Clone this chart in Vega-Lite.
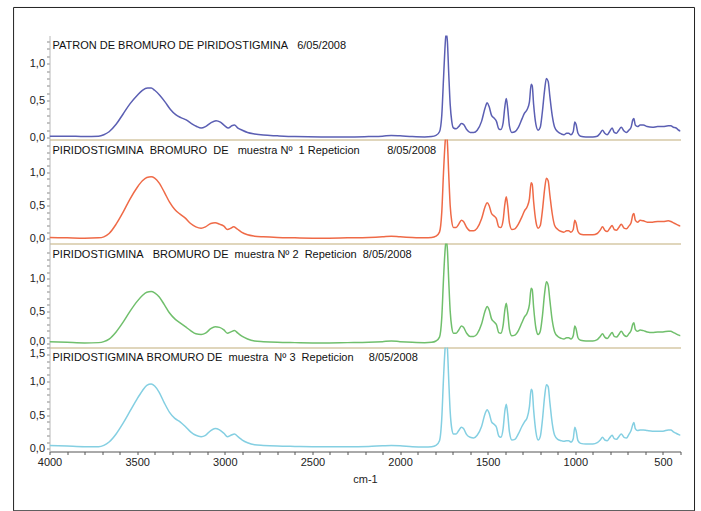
{
"$schema": "https://vega.github.io/schema/vega-lite/v6.json",
"padding": {"left": 12.5, "top": 6.5, "right": 4, "bottom": 0},
"background": "white",
"bounds": "flush",
"spacing": 0,
"config": {
  "font": "Liberation Sans",
  "view": {"stroke": null},
  "concat": {"spacing": 0},
  "axis": {"labelFont": "Liberation Sans", "labelFontSize": 11, "labelColor": "#222", "titleFont": "Liberation Sans", "grid": false},
  "title": {"font": "Liberation Sans", "fontSize": 11, "fontWeight": "normal", "color": "#111", "anchor": "start", "frame": "group", "baseline": "top", "offset": -16, "dx": 3}
},
"datasets": {
"p1": [{"w":4000,"a":0.02},{"w":3900,"a":0.02},{"w":3800,"a":0.015},{"w":3720,"a":0.02},{"w":3690,"a":0.04},{"w":3660,"a":0.08},{"w":3620,"a":0.18},{"w":3580,"a":0.32},{"w":3540,"a":0.46},{"w":3500,"a":0.57},{"w":3470,"a":0.64},{"w":3440,"a":0.67},{"w":3420,"a":0.67},{"w":3400,"a":0.64},{"w":3370,"a":0.57},{"w":3340,"a":0.48},{"w":3310,"a":0.38},{"w":3280,"a":0.31},{"w":3250,"a":0.27},{"w":3220,"a":0.24},{"w":3190,"a":0.19},{"w":3160,"a":0.15},{"w":3135,"a":0.13},{"w":3110,"a":0.15},{"w":3080,"a":0.2},{"w":3050,"a":0.23},{"w":3025,"a":0.21},{"w":3000,"a":0.16},{"w":2980,"a":0.13},{"w":2960,"a":0.16},{"w":2945,"a":0.17},{"w":2925,"a":0.13},{"w":2900,"a":0.1},{"w":2870,"a":0.07},{"w":2830,"a":0.05},{"w":2780,"a":0.035},{"w":2700,"a":0.025},{"w":2600,"a":0.015},{"w":2450,"a":0.01},{"w":2300,"a":0.01},{"w":2180,"a":0.015},{"w":2100,"a":0.02},{"w":2050,"a":0.03},{"w":2000,"a":0.025},{"w":1930,"a":0.015},{"w":1860,"a":0.01},{"w":1820,"a":0.015},{"w":1795,"a":0.03},{"w":1775,"a":0.08},{"w":1762,"a":0.3},{"w":1752,"a":0.8},{"w":1744,"a":1.2},{"w":1737,"a":1.42},{"w":1730,"a":1.3},{"w":1722,"a":0.85},{"w":1714,"a":0.45},{"w":1705,"a":0.22},{"w":1695,"a":0.13},{"w":1680,"a":0.12},{"w":1665,"a":0.15},{"w":1650,"a":0.19},{"w":1638,"a":0.18},{"w":1620,"a":0.11},{"w":1600,"a":0.07},{"w":1580,"a":0.07},{"w":1560,"a":0.1},{"w":1535,"a":0.22},{"w":1515,"a":0.4},{"w":1503,"a":0.47},{"w":1492,"a":0.42},{"w":1478,"a":0.3},{"w":1462,"a":0.26},{"w":1450,"a":0.22},{"w":1437,"a":0.12},{"w":1425,"a":0.11},{"w":1412,"a":0.2},{"w":1402,"a":0.42},{"w":1394,"a":0.53},{"w":1386,"a":0.4},{"w":1376,"a":0.16},{"w":1362,"a":0.07},{"w":1345,"a":0.08},{"w":1325,"a":0.14},{"w":1305,"a":0.25},{"w":1290,"a":0.33},{"w":1275,"a":0.38},{"w":1262,"a":0.48},{"w":1252,"a":0.72},{"w":1246,"a":0.7},{"w":1238,"a":0.45},{"w":1225,"a":0.18},{"w":1212,"a":0.1},{"w":1200,"a":0.14},{"w":1188,"a":0.35},{"w":1175,"a":0.65},{"w":1165,"a":0.8},{"w":1155,"a":0.76},{"w":1145,"a":0.55},{"w":1132,"a":0.3},{"w":1118,"a":0.14},{"w":1100,"a":0.08},{"w":1080,"a":0.05},{"w":1065,"a":0.04},{"w":1050,"a":0.06},{"w":1038,"a":0.06},{"w":1025,"a":0.04},{"w":1012,"a":0.08},{"w":1003,"a":0.21},{"w":996,"a":0.18},{"w":985,"a":0.06},{"w":970,"a":0.02},{"w":940,"a":0.01},{"w":900,"a":0.01},{"w":875,"a":0.02},{"w":858,"a":0.06},{"w":845,"a":0.1},{"w":832,"a":0.06},{"w":818,"a":0.04},{"w":805,"a":0.08},{"w":790,"a":0.13},{"w":778,"a":0.07},{"w":765,"a":0.06},{"w":752,"a":0.1},{"w":738,"a":0.14},{"w":722,"a":0.09},{"w":708,"a":0.07},{"w":695,"a":0.1},{"w":682,"a":0.14},{"w":672,"a":0.24},{"w":666,"a":0.26},{"w":658,"a":0.17},{"w":645,"a":0.15},{"w":630,"a":0.17},{"w":612,"a":0.17},{"w":590,"a":0.15},{"w":560,"a":0.14},{"w":530,"a":0.15},{"w":500,"a":0.15},{"w":470,"a":0.16},{"w":455,"a":0.16},{"w":440,"a":0.14},{"w":425,"a":0.13},{"w":410,"a":0.1},{"w":400,"a":0.09}],
"p2": [{"w":4000,"a":0.02},{"w":3900,"a":0.015},{"w":3800,"a":0.01},{"w":3720,"a":0.015},{"w":3690,"a":0.03},{"w":3660,"a":0.08},{"w":3620,"a":0.22},{"w":3580,"a":0.4},{"w":3540,"a":0.6},{"w":3500,"a":0.77},{"w":3470,"a":0.87},{"w":3445,"a":0.92},{"w":3420,"a":0.93},{"w":3400,"a":0.91},{"w":3375,"a":0.84},{"w":3345,"a":0.7},{"w":3315,"a":0.55},{"w":3285,"a":0.44},{"w":3255,"a":0.37},{"w":3225,"a":0.31},{"w":3195,"a":0.23},{"w":3165,"a":0.18},{"w":3135,"a":0.16},{"w":3110,"a":0.18},{"w":3080,"a":0.23},{"w":3055,"a":0.24},{"w":3030,"a":0.22},{"w":3005,"a":0.19},{"w":2985,"a":0.14},{"w":2965,"a":0.16},{"w":2950,"a":0.18},{"w":2930,"a":0.15},{"w":2905,"a":0.1},{"w":2870,"a":0.06},{"w":2830,"a":0.04},{"w":2780,"a":0.03},{"w":2700,"a":0.02},{"w":2600,"a":0.015},{"w":2450,"a":0.01},{"w":2300,"a":0.015},{"w":2180,"a":0.02},{"w":2100,"a":0.03},{"w":2050,"a":0.04},{"w":2000,"a":0.03},{"w":1930,"a":0.02},{"w":1860,"a":0.015},{"w":1820,"a":0.02},{"w":1795,"a":0.04},{"w":1775,"a":0.1},{"w":1762,"a":0.4},{"w":1752,"a":1.0},{"w":1744,"a":1.4},{"w":1737,"a":1.6},{"w":1730,"a":1.45},{"w":1722,"a":0.95},{"w":1714,"a":0.5},{"w":1705,"a":0.26},{"w":1695,"a":0.17},{"w":1680,"a":0.17},{"w":1665,"a":0.22},{"w":1650,"a":0.28},{"w":1638,"a":0.26},{"w":1620,"a":0.17},{"w":1600,"a":0.12},{"w":1580,"a":0.12},{"w":1560,"a":0.16},{"w":1535,"a":0.3},{"w":1515,"a":0.48},{"w":1503,"a":0.54},{"w":1492,"a":0.5},{"w":1478,"a":0.38},{"w":1462,"a":0.34},{"w":1450,"a":0.3},{"w":1437,"a":0.18},{"w":1425,"a":0.17},{"w":1412,"a":0.28},{"w":1402,"a":0.52},{"w":1394,"a":0.63},{"w":1386,"a":0.5},{"w":1376,"a":0.24},{"w":1362,"a":0.14},{"w":1345,"a":0.15},{"w":1325,"a":0.22},{"w":1305,"a":0.33},{"w":1290,"a":0.42},{"w":1275,"a":0.48},{"w":1262,"a":0.6},{"w":1252,"a":0.84},{"w":1246,"a":0.82},{"w":1238,"a":0.56},{"w":1225,"a":0.26},{"w":1212,"a":0.16},{"w":1200,"a":0.2},{"w":1188,"a":0.42},{"w":1175,"a":0.75},{"w":1165,"a":0.91},{"w":1155,"a":0.87},{"w":1145,"a":0.65},{"w":1132,"a":0.38},{"w":1118,"a":0.2},{"w":1100,"a":0.14},{"w":1080,"a":0.11},{"w":1065,"a":0.1},{"w":1050,"a":0.12},{"w":1038,"a":0.12},{"w":1025,"a":0.1},{"w":1012,"a":0.14},{"w":1003,"a":0.28},{"w":996,"a":0.24},{"w":985,"a":0.11},{"w":970,"a":0.07},{"w":940,"a":0.06},{"w":900,"a":0.06},{"w":875,"a":0.08},{"w":858,"a":0.13},{"w":845,"a":0.18},{"w":832,"a":0.13},{"w":818,"a":0.11},{"w":805,"a":0.15},{"w":790,"a":0.2},{"w":778,"a":0.14},{"w":765,"a":0.13},{"w":752,"a":0.17},{"w":738,"a":0.22},{"w":722,"a":0.16},{"w":708,"a":0.15},{"w":695,"a":0.19},{"w":682,"a":0.24},{"w":672,"a":0.36},{"w":666,"a":0.38},{"w":658,"a":0.28},{"w":645,"a":0.25},{"w":630,"a":0.28},{"w":612,"a":0.27},{"w":590,"a":0.25},{"w":560,"a":0.25},{"w":530,"a":0.26},{"w":500,"a":0.26},{"w":470,"a":0.27},{"w":455,"a":0.26},{"w":440,"a":0.24},{"w":425,"a":0.22},{"w":410,"a":0.2},{"w":400,"a":0.19}],
"p3": [{"w":4000,"a":0.03},{"w":3900,"a":0.02},{"w":3800,"a":0.01},{"w":3720,"a":0.015},{"w":3690,"a":0.03},{"w":3660,"a":0.07},{"w":3620,"a":0.18},{"w":3580,"a":0.33},{"w":3540,"a":0.5},{"w":3500,"a":0.65},{"w":3470,"a":0.74},{"w":3445,"a":0.79},{"w":3420,"a":0.8},{"w":3400,"a":0.78},{"w":3375,"a":0.72},{"w":3345,"a":0.6},{"w":3315,"a":0.47},{"w":3285,"a":0.38},{"w":3255,"a":0.32},{"w":3225,"a":0.26},{"w":3195,"a":0.2},{"w":3165,"a":0.15},{"w":3135,"a":0.14},{"w":3110,"a":0.16},{"w":3080,"a":0.23},{"w":3055,"a":0.26},{"w":3030,"a":0.25},{"w":3005,"a":0.21},{"w":2985,"a":0.16},{"w":2965,"a":0.18},{"w":2945,"a":0.2},{"w":2925,"a":0.16},{"w":2900,"a":0.11},{"w":2870,"a":0.07},{"w":2830,"a":0.04},{"w":2780,"a":0.03},{"w":2700,"a":0.02},{"w":2600,"a":0.015},{"w":2450,"a":0.01},{"w":2300,"a":0.015},{"w":2180,"a":0.02},{"w":2100,"a":0.03},{"w":2050,"a":0.04},{"w":2000,"a":0.03},{"w":1930,"a":0.02},{"w":1860,"a":0.015},{"w":1820,"a":0.02},{"w":1795,"a":0.04},{"w":1775,"a":0.1},{"w":1762,"a":0.4},{"w":1752,"a":1.0},{"w":1744,"a":1.4},{"w":1737,"a":1.6},{"w":1730,"a":1.45},{"w":1722,"a":0.95},{"w":1714,"a":0.5},{"w":1705,"a":0.25},{"w":1695,"a":0.16},{"w":1680,"a":0.16},{"w":1665,"a":0.21},{"w":1650,"a":0.27},{"w":1638,"a":0.25},{"w":1620,"a":0.16},{"w":1600,"a":0.11},{"w":1580,"a":0.11},{"w":1560,"a":0.15},{"w":1535,"a":0.3},{"w":1515,"a":0.5},{"w":1503,"a":0.57},{"w":1492,"a":0.52},{"w":1478,"a":0.38},{"w":1462,"a":0.33},{"w":1450,"a":0.29},{"w":1437,"a":0.17},{"w":1425,"a":0.16},{"w":1412,"a":0.28},{"w":1402,"a":0.52},{"w":1394,"a":0.62},{"w":1386,"a":0.48},{"w":1376,"a":0.22},{"w":1362,"a":0.12},{"w":1345,"a":0.13},{"w":1325,"a":0.2},{"w":1305,"a":0.32},{"w":1290,"a":0.41},{"w":1275,"a":0.47},{"w":1262,"a":0.6},{"w":1252,"a":0.85},{"w":1246,"a":0.83},{"w":1238,"a":0.56},{"w":1225,"a":0.24},{"w":1212,"a":0.14},{"w":1200,"a":0.19},{"w":1188,"a":0.42},{"w":1175,"a":0.78},{"w":1165,"a":0.95},{"w":1155,"a":0.9},{"w":1145,"a":0.66},{"w":1132,"a":0.36},{"w":1118,"a":0.18},{"w":1100,"a":0.11},{"w":1080,"a":0.08},{"w":1065,"a":0.07},{"w":1050,"a":0.09},{"w":1038,"a":0.09},{"w":1025,"a":0.07},{"w":1012,"a":0.12},{"w":1003,"a":0.27},{"w":996,"a":0.23},{"w":985,"a":0.09},{"w":970,"a":0.05},{"w":940,"a":0.04},{"w":900,"a":0.04},{"w":875,"a":0.06},{"w":858,"a":0.11},{"w":845,"a":0.15},{"w":832,"a":0.1},{"w":818,"a":0.08},{"w":805,"a":0.12},{"w":790,"a":0.17},{"w":778,"a":0.11},{"w":765,"a":0.1},{"w":752,"a":0.14},{"w":738,"a":0.19},{"w":722,"a":0.13},{"w":708,"a":0.11},{"w":695,"a":0.15},{"w":682,"a":0.2},{"w":672,"a":0.3},{"w":666,"a":0.32},{"w":658,"a":0.22},{"w":645,"a":0.19},{"w":630,"a":0.21},{"w":612,"a":0.2},{"w":590,"a":0.18},{"w":560,"a":0.17},{"w":530,"a":0.18},{"w":500,"a":0.18},{"w":470,"a":0.19},{"w":455,"a":0.19},{"w":440,"a":0.17},{"w":425,"a":0.15},{"w":410,"a":0.13},{"w":400,"a":0.12}],
"p4": [{"w":4000,"a":0.05},{"w":3900,"a":0.04},{"w":3800,"a":0.03},{"w":3720,"a":0.03},{"w":3690,"a":0.05},{"w":3660,"a":0.1},{"w":3620,"a":0.22},{"w":3580,"a":0.38},{"w":3540,"a":0.56},{"w":3500,"a":0.74},{"w":3470,"a":0.86},{"w":3445,"a":0.94},{"w":3420,"a":0.96},{"w":3400,"a":0.93},{"w":3375,"a":0.84},{"w":3345,"a":0.68},{"w":3315,"a":0.54},{"w":3285,"a":0.45},{"w":3255,"a":0.4},{"w":3225,"a":0.33},{"w":3195,"a":0.25},{"w":3165,"a":0.2},{"w":3135,"a":0.18},{"w":3110,"a":0.2},{"w":3080,"a":0.27},{"w":3055,"a":0.3},{"w":3030,"a":0.28},{"w":3005,"a":0.23},{"w":2985,"a":0.18},{"w":2965,"a":0.2},{"w":2945,"a":0.22},{"w":2925,"a":0.18},{"w":2900,"a":0.13},{"w":2870,"a":0.09},{"w":2830,"a":0.06},{"w":2780,"a":0.05},{"w":2700,"a":0.04},{"w":2600,"a":0.035},{"w":2450,"a":0.03},{"w":2300,"a":0.03},{"w":2180,"a":0.035},{"w":2100,"a":0.045},{"w":2050,"a":0.05},{"w":2000,"a":0.045},{"w":1930,"a":0.03},{"w":1860,"a":0.025},{"w":1820,"a":0.03},{"w":1795,"a":0.05},{"w":1775,"a":0.12},{"w":1762,"a":0.45},{"w":1752,"a":1.05},{"w":1744,"a":1.45},{"w":1737,"a":1.65},{"w":1730,"a":1.5},{"w":1722,"a":1.0},{"w":1714,"a":0.55},{"w":1705,"a":0.3},{"w":1695,"a":0.22},{"w":1680,"a":0.22},{"w":1665,"a":0.27},{"w":1650,"a":0.32},{"w":1638,"a":0.3},{"w":1620,"a":0.21},{"w":1600,"a":0.17},{"w":1580,"a":0.16},{"w":1560,"a":0.2},{"w":1535,"a":0.33},{"w":1515,"a":0.52},{"w":1503,"a":0.58},{"w":1492,"a":0.53},{"w":1478,"a":0.4},{"w":1462,"a":0.36},{"w":1450,"a":0.32},{"w":1437,"a":0.19},{"w":1425,"a":0.17},{"w":1412,"a":0.3},{"w":1402,"a":0.56},{"w":1394,"a":0.66},{"w":1386,"a":0.52},{"w":1376,"a":0.25},{"w":1362,"a":0.13},{"w":1345,"a":0.14},{"w":1325,"a":0.22},{"w":1305,"a":0.33},{"w":1290,"a":0.4},{"w":1275,"a":0.46},{"w":1262,"a":0.62},{"w":1252,"a":0.88},{"w":1246,"a":0.86},{"w":1238,"a":0.58},{"w":1225,"a":0.25},{"w":1212,"a":0.13},{"w":1200,"a":0.18},{"w":1188,"a":0.42},{"w":1175,"a":0.78},{"w":1165,"a":0.95},{"w":1155,"a":0.92},{"w":1145,"a":0.68},{"w":1132,"a":0.38},{"w":1118,"a":0.2},{"w":1100,"a":0.14},{"w":1080,"a":0.12},{"w":1065,"a":0.11},{"w":1050,"a":0.12},{"w":1038,"a":0.12},{"w":1025,"a":0.1},{"w":1012,"a":0.15},{"w":1003,"a":0.32},{"w":996,"a":0.27},{"w":985,"a":0.12},{"w":970,"a":0.08},{"w":940,"a":0.07},{"w":900,"a":0.07},{"w":875,"a":0.09},{"w":858,"a":0.13},{"w":845,"a":0.17},{"w":832,"a":0.13},{"w":818,"a":0.12},{"w":805,"a":0.16},{"w":790,"a":0.2},{"w":778,"a":0.15},{"w":765,"a":0.14},{"w":752,"a":0.18},{"w":738,"a":0.22},{"w":722,"a":0.17},{"w":708,"a":0.16},{"w":695,"a":0.21},{"w":682,"a":0.27},{"w":672,"a":0.36},{"w":666,"a":0.39},{"w":658,"a":0.3},{"w":645,"a":0.27},{"w":630,"a":0.28},{"w":612,"a":0.28},{"w":590,"a":0.27},{"w":560,"a":0.26},{"w":530,"a":0.26},{"w":500,"a":0.26},{"w":470,"a":0.28},{"w":455,"a":0.28},{"w":440,"a":0.25},{"w":425,"a":0.23},{"w":410,"a":0.21},{"w":400,"a":0.2}],
"t4": [{"t": "PIRIDOSTIGMINA\u00a0BROMURO\u00a0DE\u00a0\u00a0muestra\u00a0\u00a0Nº\u00a03\u00a0\u00a0Repeticion\u00a0\u00a0\u00a0\u00a0\u00a08/05/2008"}]
},
"vconcat": [
 {
  "width": 631, "height": 104,
  "data": {"name": "p1"},
  "title": {"text": "PATRON DE BROMURO DE PIRIDOSTIGMINA\u00a0\u00a0\u00a06/05/2008"},
  "mark": {"type": "line", "color": "#5b5fb3", "strokeWidth": 1.5, "clip": true, "interpolate": "monotone"},
  "encoding": {
   "x": {"field": "w", "type": "quantitative", "scale": {"domain": [4000, 400], "nice": false, "zero": false}, "axis": {"title": null, "labels": false, "ticks": false, "domainColor": "#d6c9a6", "domainWidth": 1.5}},
   "y": {"field": "a", "type": "quantitative", "scale": {"domain": [-0.025, 1.38], "nice": false, "zero": false}, "axis": {"title": null, "values": [0,0.1,0.2,0.3,0.4,0.5,0.6,0.7,0.8,0.9,1,1.1,1.2,1.3], "labelExpr": "abs(datum.value*2 - round(datum.value*2)) < 0.01 ? replace(format(datum.value, '.1f'), '.', ',') : ''", "labelOverlap": false, "domainColor": "#b8b8b8", "tickColor": "#888", "tickSize": 3, "labelPadding": 2}}
  }
 },
 {
  "width": 631, "height": 104,
  "data": {"name": "p2"},
  "title": {"text": "PIRIDOSTIGMINA\u00a0\u00a0BROMURO\u00a0\u00a0DE\u00a0\u00a0\u00a0muestra\u00a0Nº\u00a0\u00a01\u00a0Repeticion\u00a0\u00a0\u00a0\u00a0\u00a0\u00a0\u00a0\u00a0\u00a08/05/2008"},
  "mark": {"type": "line", "color": "#ef6a47", "strokeWidth": 1.5, "clip": true, "interpolate": "monotone"},
  "encoding": {
   "x": {"field": "w", "type": "quantitative", "scale": {"domain": [4000, 400], "nice": false, "zero": false}, "axis": {"title": null, "labels": false, "ticks": false, "domainColor": "#d6c9a6", "domainWidth": 1.5}},
   "y": {"field": "a", "type": "quantitative", "scale": {"domain": [-0.07, 1.49], "nice": false, "zero": false}, "axis": {"title": null, "values": [0,0.1,0.2,0.3,0.4,0.5,0.6,0.7,0.8,0.9,1,1.1,1.2,1.3,1.4], "labelExpr": "abs(datum.value*2 - round(datum.value*2)) < 0.01 ? replace(format(datum.value, '.1f'), '.', ',') : ''", "labelOverlap": false, "domainColor": "#b8b8b8", "tickColor": "#888", "tickSize": 3, "labelPadding": 2}}
  }
 },
 {
  "width": 631, "height": 104,
  "data": {"name": "p3"},
  "title": {"text": "PIRIDOSTIGMINA\u00a0\u00a0\u00a0BROMURO\u00a0DE\u00a0\u00a0muestra\u00a0Nº\u00a02\u00a0\u00a0Repeticion\u00a0\u00a08/05/2008"},
  "mark": {"type": "line", "color": "#70bf6c", "strokeWidth": 1.5, "clip": true, "interpolate": "monotone"},
  "encoding": {
   "x": {"field": "w", "type": "quantitative", "scale": {"domain": [4000, 400], "nice": false, "zero": false}, "axis": {"title": null, "labels": false, "ticks": false, "domainColor": "#d6c9a6", "domainWidth": 1.5}},
   "y": {"field": "a", "type": "quantitative", "scale": {"domain": [-0.06, 1.54], "nice": false, "zero": false}, "axis": {"title": null, "values": [0,0.1,0.2,0.3,0.4,0.5,0.6,0.7,0.8,0.9,1,1.1,1.2,1.3,1.4], "labelExpr": "abs(datum.value*2 - round(datum.value*2)) < 0.01 ? replace(format(datum.value, '.1f'), '.', ',') : ''", "labelOffset": {"condition": {"test": "datum.value < 0.05", "value": -2}, "value": 0}, "labelOverlap": false, "domainColor": "#b8b8b8", "tickColor": "#888", "tickSize": 3, "labelPadding": 2}}
  }
 },
 {
  "width": 631, "height": 104,
  "layer": [
   {
    "data": {"name": "p4"},
    "mark": {"type": "line", "color": "#84cfe2", "strokeWidth": 1.5, "clip": true, "interpolate": "monotone"},
    "encoding": {
     "x": {"field": "w", "type": "quantitative", "scale": {"domain": [4000, 400], "nice": false, "zero": false}, "axis": {"title": "cm-1", "titleFontSize": 11, "titleFontWeight": "normal", "titleColor": "#222", "titlePadding": 6, "values": [4000,3900,3800,3700,3600,3500,3400,3300,3200,3100,3000,2900,2800,2700,2600,2500,2400,2300,2200,2100,2000,1900,1800,1700,1600,1500,1400,1300,1200,1100,1000,900,800,700,600,500,400], "format": "d", "labelExpr": "datum.value % 500 === 0 ? datum.label : ''", "labelFlush": false, "labelOverlap": false, "domainColor": "#555", "tickColor": "#555", "tickSize": 3, "labelPadding": 2}},
     "y": {"field": "a", "type": "quantitative", "scale": {"domain": [-0.04, 1.5], "nice": false, "zero": false}, "axis": {"title": null, "values": [0,0.1,0.2,0.3,0.4,0.5,0.6,0.7,0.8,0.9,1,1.1,1.2,1.3,1.4,1.5], "labelExpr": "abs(datum.value*2 - round(datum.value*2)) < 0.01 ? replace(format(datum.value, '.1f'), '.', ',') : ''", "labelBaseline": {"condition": {"test": "datum.value > 1.45", "value": "top"}, "value": "middle"}, "labelOverlap": false, "domainColor": "#b8b8b8", "tickColor": "#888", "tickSize": 3, "labelPadding": 2}}
    }
   },
   {
    "data": {"name": "t4"},
    "mark": {"type": "text", "align": "left", "baseline": "top", "dx": 3, "dy": 4, "font": "Liberation Sans", "fontSize": 11, "color": "#111"},
    "encoding": {
     "text": {"field": "t"},
     "x": {"datum": 4000, "type": "quantitative", "scale": {"domain": [4000, 400], "nice": false, "zero": false}, "axis": {"title": "cm-1", "titleFontSize": 11, "titleFontWeight": "normal", "titleColor": "#222", "titlePadding": 6, "values": [4000,3900,3800,3700,3600,3500,3400,3300,3200,3100,3000,2900,2800,2700,2600,2500,2400,2300,2200,2100,2000,1900,1800,1700,1600,1500,1400,1300,1200,1100,1000,900,800,700,600,500,400], "format": "d", "labelExpr": "datum.value % 500 === 0 ? datum.label : ''", "labelFlush": false, "labelOverlap": false, "domainColor": "#555", "tickColor": "#555", "tickSize": 3, "labelPadding": 2}},
     "y": {"datum": 1.5, "type": "quantitative", "scale": {"domain": [-0.04, 1.5], "nice": false, "zero": false}, "axis": {"title": null, "values": [0,0.1,0.2,0.3,0.4,0.5,0.6,0.7,0.8,0.9,1,1.1,1.2,1.3,1.4,1.5], "labelExpr": "abs(datum.value*2 - round(datum.value*2)) < 0.01 ? replace(format(datum.value, '.1f'), '.', ',') : ''", "labelBaseline": {"condition": {"test": "datum.value > 1.45", "value": "top"}, "value": "middle"}, "labelOverlap": false, "domainColor": "#b8b8b8", "tickColor": "#888", "tickSize": 3, "labelPadding": 2}}
    }
   },
   {
    "data": {"values": [{}]},
    "mark": {"type": "rect", "fill": null, "stroke": "#222", "strokeWidth": 1, "clip": false},
    "encoding": {
     "x": {"datum": 4205, "type": "quantitative", "scale": {"domain": [4000, 400], "nice": false, "zero": false}, "axis": {"title": "cm-1", "titleFontSize": 11, "titleFontWeight": "normal", "titleColor": "#222", "titlePadding": 6, "values": [4000,3900,3800,3700,3600,3500,3400,3300,3200,3100,3000,2900,2800,2700,2600,2500,2400,2300,2200,2100,2000,1900,1800,1700,1600,1500,1400,1300,1200,1100,1000,900,800,700,600,500,400], "format": "d", "labelExpr": "datum.value % 500 === 0 ? datum.label : ''", "labelFlush": false, "labelOverlap": false, "domainColor": "#555", "tickColor": "#555", "tickSize": 3, "labelPadding": 2}},
     "x2": {"datum": 320},
     "y": {"datum": 6.535, "type": "quantitative", "scale": {"domain": [-0.04, 1.5], "nice": false, "zero": false}, "axis": {"title": null, "values": [0,0.1,0.2,0.3,0.4,0.5,0.6,0.7,0.8,0.9,1,1.1,1.2,1.3,1.4,1.5], "labelExpr": "abs(datum.value*2 - round(datum.value*2)) < 0.01 ? replace(format(datum.value, '.1f'), '.', ',') : ''", "labelBaseline": {"condition": {"test": "datum.value > 1.45", "value": "top"}, "value": "middle"}, "labelOverlap": false, "domainColor": "#b8b8b8", "tickColor": "#888", "tickSize": 3, "labelPadding": 2}},
     "y2": {"datum": -0.918}
    }
   }
  ]
 }
]
}
